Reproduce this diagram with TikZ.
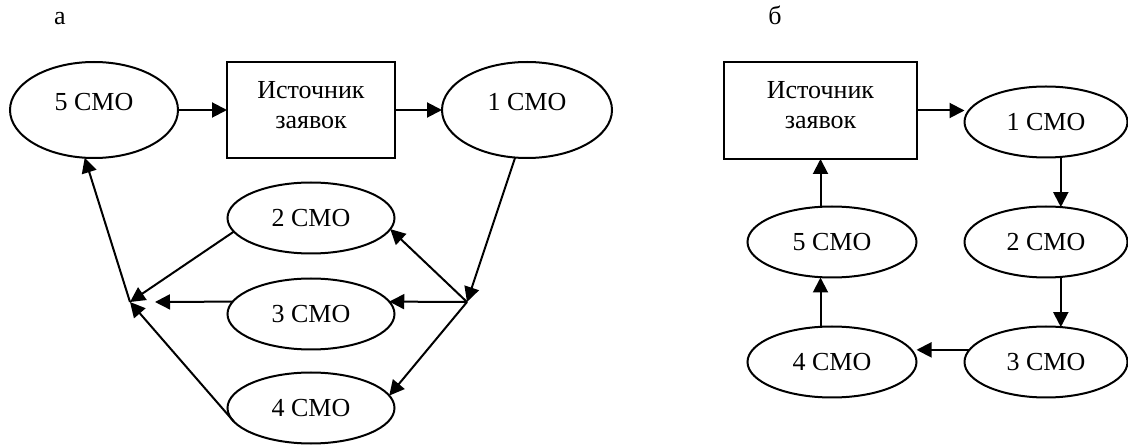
\documentclass[tikz,border=0pt]{standalone}
\usepackage{fontspec}
\setmainfont{Liberation Serif}
\usetikzlibrary{shapes.geometric,arrows.meta}
\begin{document}
\begin{tikzpicture}[x=1pt,y=-1pt,
  txt/.style={font=\fontsize{26}{30}\selectfont},
  ln/.style={line width=2pt},
  cmo/.style={ellipse, draw, ln, txt, inner sep=0pt, outer sep=0pt,
              minimum width=167pt, minimum height=71pt},
  bigcmo/.style={cmo, minimum width=168pt, minimum height=96pt,
                 text height=17pt, text depth=16pt},
  srcbox/.style={rectangle, draw, ln, inner sep=0pt, outer sep=0pt},
  srctext/.style={txt, align=center, inner sep=0pt},
  arr/.style={ln, -{Triangle[length=15pt,width=15pt]}},
  ]
\useasboundingbox (0,0) rectangle (1128,446);

% ---------- variant (a) ----------
\node[txt, anchor=base] (capA) at (60,25) {а};

\node[bigcmo] (a5) at (94,110) {5 СМО};
\node[srcbox, minimum width=168pt, minimum height=96pt] (asrc) at (311,110) {};
\node[srctext] (asrct) at (311,105) {Источник\\заявок};
\node[bigcmo, minimum width=170pt] (a1) at (527,110) {1 СМО};

\node[cmo] (a2) at (311,218) {2 СМО};
\node[cmo] (a3) at (311,314) {3 СМО};
\node[cmo] (a4) at (311,408) {4 СМО};

\coordinate (jr) at (467,302);
\coordinate (jl) at (130,302);
\coordinate (jl3) at (155,302);

\draw[arr] (a5.east) -- (asrc.west);
\draw[arr] (asrc.east) -- (a1.west);
\draw[arr] (a1.256) -- (jr);
\draw[arr] (jr) -- (a2.352);
\draw[arr] (jr) -- (a3.9);
\draw[arr] (jr) -- (a4.9);
\draw[arr] (a2.190) -- (jl);
\draw[arr] (a3.171) -- (jl3);
\draw[arr] (a4.190) -- (jl);
\draw[arr] (jl) -- (a5.259);

% ---------- variant (b) ----------
\node[txt, anchor=base] (capB) at (775,25) {б};

\node[srcbox, minimum width=193pt, minimum height=97pt] (bsrc) at (820.5,110.5) {};
\node[srctext] (bsrct) at (820.5,105) {Источник\\заявок};
\node[cmo, minimum width=163pt] (b1) at (1046,122) {1 СМО};
\node[cmo, minimum width=163pt] (b2) at (1046,242) {2 СМО};
\node[cmo, minimum width=163pt] (b3) at (1046,362) {3 СМО};
\node[cmo, minimum width=169pt] (b5) at (832,242) {5 СМО};
\node[cmo, minimum width=169pt] (b4) at (832,362) {4 СМО};

\draw[arr] (bsrc.east) -- (bsrc.east -| b1.west);
\draw[arr] (b1.293) -- (b2.67);
\draw[arr] (b2.293) -- (b3.67);
\draw[arr] (b3.171) -- (b3.171 -| b4.east);
\draw[arr] (bsrc.south |- b4.north) -- (bsrc.south |- b5.south);
\draw[arr] (bsrc.south |- b5.north) -- (bsrc.south);
\end{tikzpicture}
\end{document}
